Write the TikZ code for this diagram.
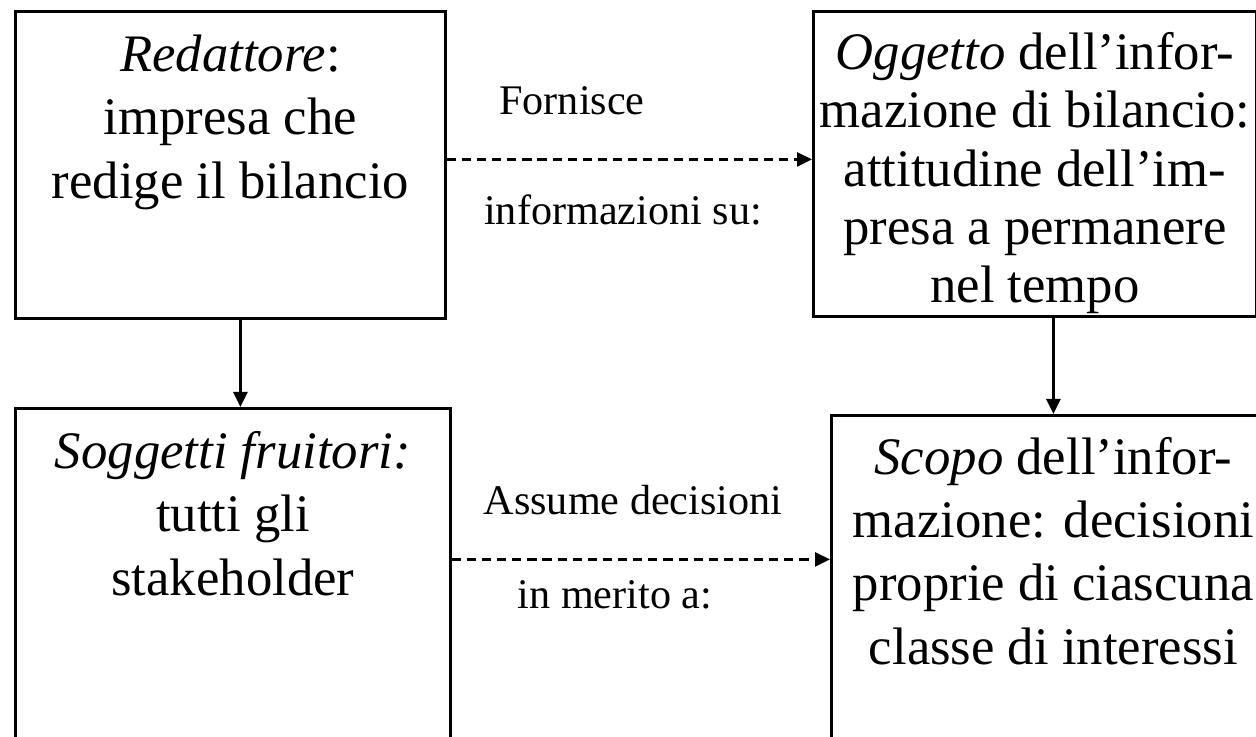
\documentclass[tikz,border=0pt]{standalone}
\usepackage{fontspec}
\setmainfont{Liberation Serif}
\usetikzlibrary{calc}
\usetikzlibrary{arrows.meta}

% text block at the top of a box: height, width, first-line drop, content
\newcommand{\cella}[4]{\parbox[c][#1][t]{#2}{\centering\vspace*{#3}\strut #4}}

\tikzset{
  cassa/.style={draw, line width=0.8pt, inner sep=0pt, anchor=north west, font=\fontsize{15}{18}\selectfont},
  freccia/.style={-{Triangle[length=1.5mm,width=1.4mm]}, line width=0.7pt},
  tratteggio/.style={freccia, dash pattern=on 2.6pt off 1.7pt},
  etichetta/.style={anchor=base, font=\fontsize{12}{14}\selectfont}
}

\begin{document}
\begin{tikzpicture}
\useasboundingbox (0,0) rectangle (12.56,7.36);
\clip (0,0) rectangle (12.56,7.36);

\node[cassa] (red) at (0.14,7.26) {\cella{3.07cm}{4.30cm}{4.5pt}{\textit{Redattore}:\\ impresa che\\ redige il bilancio}}; % redattore
\node[cassa, font=\fontsize{15}{16.6}\selectfont] (ogg) at (8.12,7.26) {\cella{3.05cm}{4.43cm}{4.9pt}{\textit{Oggetto} dell'infor-\\ mazione di bilancio:\\ attitudine dell'im-\\ presa a permanere\\ nel tempo}}; % oggetto
\node[cassa] (sog) at (0.14,3.29) {\cella{3.5cm}{4.35cm}{4.5pt}{\textit{Soggetti fruitori:}\\ tutti gli\\ stakeholder}}; % soggetti
\node[cassa] (sco) at (8.30,3.22) {\cella{3.5cm}{4.44cm}{4.2pt}{\textit{Scopo} dell'infor-\\ mazione: decisioni\\ proprie di ciascuna\\ classe di interessi}}; % scopo

\node[etichetta] (forn) at (5.72,6.21) {Fornisce};
\node[etichetta] (info) at (6.23,5.11) {informazioni su:};
\node[etichetta] (assu) at (6.33,2.21) {Assume decisioni};
\node[etichetta] (meri) at (6.15,1.28) {in merito a:};

\draw[freccia] ([xshift=1mm]red.south) -- ([xshift=1mm]red.south |- sog.north);
\draw[freccia] (ogg.south -| sco.north) -- (sco.north);
\draw[tratteggio] ([yshift=0.55mm]red.east) -- ([yshift=0.55mm]red.east -| ogg.west);
\draw[tratteggio] ([yshift=2.4mm]sog.east) -- ([yshift=2.4mm]sog.east -| sco.west);

\end{tikzpicture}
\end{document}
